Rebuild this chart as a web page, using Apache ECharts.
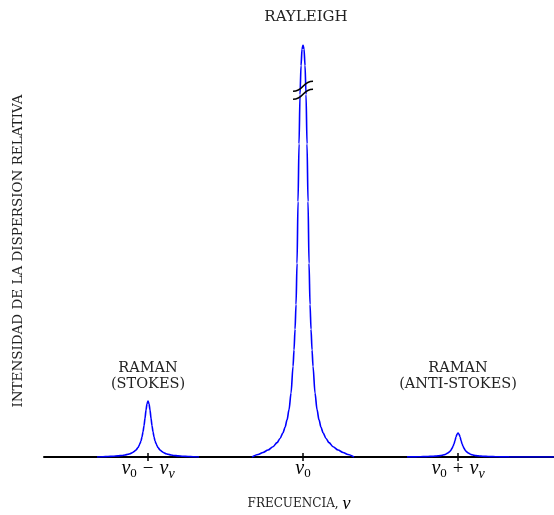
<!DOCTYPE html>
<html>
<head>
<meta charset="utf-8">
<script src="https://cdn.jsdelivr.net/npm/echarts@6/dist/echarts.min.js"></script>
<style>
  html, body { margin: 0; padding: 0; background: #fff; }
  #chart { width: 554px; height: 515px; }
</style>
</head>
<body>
<div id="chart"></div>
<script>
// Peak centres on the frequency axis, in units of the vibrational shift νv (ν0 = 0)
const peakCentres = { stokes: -1, rayleigh: 0, antiStokes: 1 };

// Distances from a peak centre (units of νv) at which the line profiles were sampled
const offsets = [0, 0.0065, 0.0129, 0.0194, 0.0258, 0.0323, 0.0387, 0.0452, 0.0516, 0.0581, 0.0645,
                 0.0774, 0.0903, 0.1032, 0.1161, 0.129, 0.1484, 0.1677, 0.1935, 0.2258, 0.2581, 0.2903, 0.329];

// Relative scattered intensity at each offset (Rayleigh peak = 100)
const rayleighProfile   = [100, 99, 95, 88, 76, 62, 47, 37, 31, 26, 22, 15.5, 11.5, 9.0, 7.2, 5.9, 4.5, 3.5, 2.5, 1.7, 1.1, 0.6, 0];
const stokesProfile     = [13.6, 12.9, 11.4, 9.4, 7.6, 6.1, 4.9, 3.9, 3.3, 2.7, 2.3, 1.7, 1.3, 1.0, 0.8, 0.65, 0.5, 0.38, 0.27, 0.18, 0.12, 0.07, 0];
const antiStokesProfile = [5.8, 5.5, 4.9, 4.0, 3.2, 2.6, 2.1, 1.7, 1.4, 1.2, 1.0, 0.71, 0.55, 0.42, 0.34, 0.28, 0.21, 0.16, 0.12, 0.08, 0.05, 0.03, 0.02];
// Anti-Stokes tail continues to the right edge of the axis
const antiStokesTailOffsets = [0.42, 0.52, 0.62];
const antiStokesTail        = [0.012, 0.006, 0.003];

// Axis tick positions and labels
const tickValues = [-1, 0, 1];
const tickLabels = ['{i|ν}{s|0}{o|−}{i|ν}{si|v}', '{i|ν}{s|0}', '{i|ν}{s|0}{o|+}{i|ν}{si|v}'];

// Height on the Rayleigh line where the axis break is drawn
const breakLevel = 89;

function mirror(centre, offs, vals) {
  const pts = [];
  for (let k = offs.length - 1; k > 0; k--) pts.push([centre - offs[k], vals[k]]);
  for (let k = 0; k < offs.length; k++) pts.push([centre + offs[k], vals[k]]);
  return pts;
}

const rayleighData = mirror(peakCentres.rayleigh, offsets, rayleighProfile);
const stokesData = mirror(peakCentres.stokes, offsets, stokesProfile);
const antiStokesData = mirror(peakCentres.antiStokes, offsets, antiStokesProfile)
  .concat(antiStokesTailOffsets.map((o, k) => [peakCentres.antiStokes + o, antiStokesTail[k]]));

const serif = '"Liberation Serif", "DejaVu Serif", serif';
const capsSerif = '"DejaVu Serif", serif';
const rich = {
  i: { fontFamily: serif, fontStyle: 'italic', fontSize: 20, color: '#000' },
  s: { fontFamily: serif, fontSize: 13, color: '#000', padding: [10, 0, 0, 0] },
  si: { fontFamily: serif, fontStyle: 'italic', fontSize: 14, color: '#000', padding: [10, 0, 0, 0] },
  o: { fontFamily: serif, fontSize: 19, color: '#000', padding: [0, 6, 0, 6] }
};

const lineStyle = { color: '#0000ff', width: 1.6 };
function peakSeries(name, data) {
  return {
    name, type: 'line', data, showSymbol: false, smooth: 0.3, smoothMonotone: 'x',
    lineStyle, z: 3, clip: true
  };
}

const chart = echarts.init(document.getElementById('chart'));
chart.setOption({
  animation: false,
  backgroundColor: '#fff',
  grid: { left: 44, right: 0, top: 45, bottom: 58, outerBoundsMode: 'none', containLabel: false },
  xAxis: [{
    type: 'value', min: -1.671, max: 1.619,
    axisLine: { show: true, lineStyle: { color: '#000', width: 2 } },
    axisTick: { show: true, customValues: tickValues, length: 4, lineStyle: { color: '#000', width: 1.5 } },
    axisLabel: {
      customValues: tickValues, margin: 0,
      formatter: v => tickLabels[tickValues.indexOf(v)], rich
    },
    splitLine: { show: false },
    name: 'FRECUENCIA, {i|ν}', nameLocation: 'middle', nameGap: 38,
    nameTextStyle: { fontFamily: capsSerif, fontSize: 12, color: '#222', rich: { i: { fontFamily: serif, fontStyle: 'italic', fontSize: 18, color: '#000' } } }
  }, {
    type: 'value', min: -1.671, max: 1.619, position: 'bottom',
    axisLine: { show: false },
    axisTick: { show: true, inside: true, customValues: tickValues, length: 4, lineStyle: { color: '#000', width: 1.5 } },
    axisLabel: { show: false }, splitLine: { show: false }
  }],
  yAxis: {
    type: 'value', min: 0, max: 100,
    axisLine: { show: false }, axisTick: { show: false }, axisLabel: { show: false },
    splitLine: { show: false },
    name: 'INTENSIDAD DE LA DISPERSION RELATIVA', nameLocation: 'middle', nameGap: 19,
    nameTextStyle: { fontFamily: capsSerif, fontSize: 13.5, color: '#222' }
  },
  series: [
    peakSeries('Stokes', stokesData),
    peakSeries('Rayleigh', rayleighData),
    peakSeries('Anti-Stokes', antiStokesData),
    {
      name: 'break', type: 'custom', data: [[peakCentres.rayleigh, breakLevel]], z: 5,
      renderItem: (params, api) => {
        const p = api.coord([api.value(0), api.value(1)]);
        const wave = dy => ({
          type: 'bezierCurve',
          shape: { x1: p[0] - 10, y1: p[1] + 5 + dy, cpx1: p[0] + 1, cpy1: p[1] + 5 + dy, cpx2: p[0] - 1, cpy2: p[1] - 5 + dy, x2: p[0] + 10, y2: p[1] - 5 + dy },
          style: { stroke: '#000', lineWidth: 1.6, fill: null }
        });
        return { type: 'group', children: [wave(-4), wave(4)] };
      }
    }
  ],
  graphic: [
    { type: 'text', x: 306, y: 17, style: { text: 'RAYLEIGH', font: '15px ' + capsSerif, fill: '#222', align: 'center', verticalAlign: 'middle' } },
    { type: 'text', x: 148, y: 376, style: { text: 'RAMAN\n(STOKES)', font: '14.5px ' + capsSerif, fill: '#222', align: 'center', verticalAlign: 'middle', lineHeight: 16 } },
    { type: 'text', x: 458, y: 376, style: { text: 'RAMAN\n(ANTI-STOKES)', font: '14.5px ' + capsSerif, fill: '#222', align: 'center', verticalAlign: 'middle', lineHeight: 16 } }
  ]
});
</script>
</body>
</html>
